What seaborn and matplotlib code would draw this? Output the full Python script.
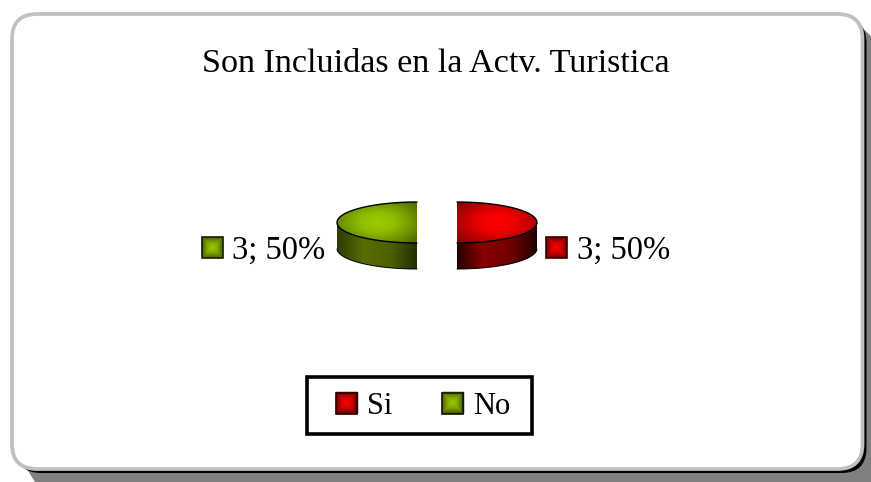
import numpy as np
import seaborn as sns
import matplotlib
matplotlib.use("Agg")
import matplotlib.pyplot as plt
from matplotlib.patches import FancyBboxPatch, Patch, Polygon, Rectangle
from matplotlib.path import Path
from matplotlib.colors import LinearSegmentedColormap

categories = ["Si", "No"]
values = [3, 3]
title = "Son Incluidas en la Actv. Turistica"
base_colors = ["#ff0000", "#99cc00"]

sns.set_theme(style="white")
plt.rcParams["font.family"] = ["Liberation Serif", "DejaVu Sans"]
plt.rcParams["text.color"] = "black"
palette = sns.color_palette(base_colors)

W, H = 871, 482
fig = plt.figure(figsize=(W / 100, H / 100), dpi=100, facecolor="white")


def px_axes(zorder):
    a = fig.add_axes([0, 0, 1, 1], zorder=zorder)
    a.set_xlim(0, W)
    a.set_ylim(H, 0)
    a.axis("off")
    a.patch.set_alpha(0)
    return a


bg = px_axes(0)
x0, y0, x1, y1 = 12, 14, 862.5, 469
rad = 25
bg.add_patch(Polygon([(20, 458), (35, 482), (871, 482), (871, 36), (856, 22)],
                     closed=True, fc="#808080", ec="none"))
bg.add_patch(FancyBboxPatch((x0 + 4, y0 + 4), x1 - x0, y1 - y0,
                            boxstyle=f"round,pad=0,rounding_size={rad}",
                            fc="black", ec="none"))
bg.add_patch(FancyBboxPatch((x0, y0), x1 - x0, y1 - y0,
                            boxstyle=f"round,pad=0,rounding_size={rad}",
                            fc="white", ec="#c0c0c0", lw=2.7))
bg.text(436, 72, title, ha="center", va="baseline", fontsize=24.6, color="black")

# Pie: one data unit is 80 px across and 20.5 px down, so the disc looks tilted.
cx, cy, sx, sy, depth = 437, 222.5, 80, 20.5, 26
xlim = (-1.5, 1.5)
ylim = (-2.6, 1.4)
pie_ax = fig.add_axes([(cx + xlim[0] * sx) / W, 1 - (cy - ylim[0] * sy) / H,
                       (xlim[1] - xlim[0]) * sx / W, (ylim[1] - ylim[0]) * sy / H],
                      zorder=1)
top, _ = pie_ax.pie(values, explode=[0.25, 0.25], startangle=90, counterclock=False,
                    radius=1, colors=palette, wedgeprops=dict(lw=0))
pie_ax.set_aspect("auto")
pie_ax.axis("off")

dy = depth / sy
side_maps = [
    LinearSegmentedColormap.from_list("r", ["#260000", "#8a0000", "#700000", "#1c0000"]),
    LinearSegmentedColormap.from_list("g", ["#2e3a00", "#566e00", "#4c6100", "#222c00"]),
]
top_maps = [
    LinearSegmentedColormap.from_list("rt", ["#ff0000", "#f00000", "#c00000", "#8a0000"]),
    LinearSegmentedColormap.from_list("gt", ["#99cc00", "#8fbf00", "#739900", "#516b00"]),
]

yy, xx = np.mgrid[-1:1:200j, -1:1:200j]
r = np.hypot(xx, yy)
for i, t in enumerate(top):
    t_path = t.get_path().transformed(t.get_patch_transform())
    xmin, xmax = t_path.vertices[:, 0].min(), t_path.vertices[:, 0].max()
    # side wall: sweep of the wedge down by the pie's depth
    wall = Path.make_compound_path(
        *[Path(t_path.vertices - [0, dy * k / 40], t_path.codes) for k in range(41)])
    im = pie_ax.imshow(np.linspace(0, 1, 256)[None, :], cmap=side_maps[i], aspect="auto",
                       extent=(xmin, xmax, -dy - 1.05, 1.05), zorder=2)
    im.set_clip_path(wall, transform=pie_ax.transData)
    # top surface with radial shading around its middle
    im2 = pie_ax.imshow(r, cmap=top_maps[i], aspect="auto", vmin=0, vmax=1.25, origin="lower",
                        extent=(xmin, xmax, -1.05, 1.05), zorder=3)
    im2.set_clip_path(t_path, transform=pie_ax.transData)
    t.set_visible(False)
    # outlines: rim of the top surface, lower edge of the wall
    off = 0.25 if i == 0 else -0.25
    a = np.linspace(-np.pi / 2, np.pi / 2, 80) if i == 0 else np.linspace(np.pi / 2, 3 * np.pi / 2, 80)
    pie_ax.plot(off + np.cos(a), np.sin(a), color="black", lw=1.0, zorder=5)
    low = a[np.sin(a) <= 0]
    pie_ax.plot(off + np.cos(low), -dy + np.sin(low), color="black", lw=0.7, zorder=5)
pie_ax.set_xlim(xlim)
pie_ax.set_ylim(ylim)

# Top layer in pixels: labels, legend and gradient keys
fg = px_axes(2)
pct = [round(100 * v / sum(values)) for v in values]
label_x = [577, 232]
key_x = [556, 212]
key_y = 247.5
for i in range(2):
    fg.text(label_x[i], 258.5, f"{values[i]}; {pct[i]}%", ha="left", va="baseline",
            fontsize=23.5, color="black")

fg.add_patch(Rectangle((306.5, 376.5), 225, 57, fc="white", ec="black", lw=2.6, zorder=1))
handles = [Patch(fc=c, ec="black", lw=1) for c in palette]
leg = fg.legend(handles, categories, loc="center", bbox_to_anchor=(423 / W, 1 - 406 / H),
                bbox_transform=fig.transFigure, ncol=2, frameon=False, labelcolor="black",
                fontsize=22, handlelength=0.69, handleheight=0.69, borderpad=0, borderaxespad=0,
                columnspacing=1.6, handletextpad=0.33)
leg.set_zorder(3)

key_maps = [
    LinearSegmentedColormap.from_list("rk", ["#ff0000", "#d00000", "#700000"]),
    LinearSegmentedColormap.from_list("gk", ["#99cc00", "#7fa800", "#4c6100"]),
]
yy2, xx2 = np.mgrid[-1:1:40j, -1:1:40j]
rk = np.maximum(np.abs(xx2), np.abs(yy2))


def key(x, y, i):
    fg.imshow(rk, cmap=key_maps[i], vmin=0, vmax=1, aspect="auto", zorder=6,
              extent=(x - 10.5, x + 10.5, y + 10.5, y - 10.5))
    fg.add_patch(Rectangle((x - 10.5, y - 10.5), 21, 21, fill=False,
                           ec="#1a1a00" if i else "#300000", lw=1.2, zorder=7))


for i in range(2):
    key(key_x[i], key_y, i)
key(346, 403, 0)
key(452.5, 403, 1)
fg.set_xlim(0, W)
fg.set_ylim(H, 0)

fig.savefig("out.png", dpi=100)
